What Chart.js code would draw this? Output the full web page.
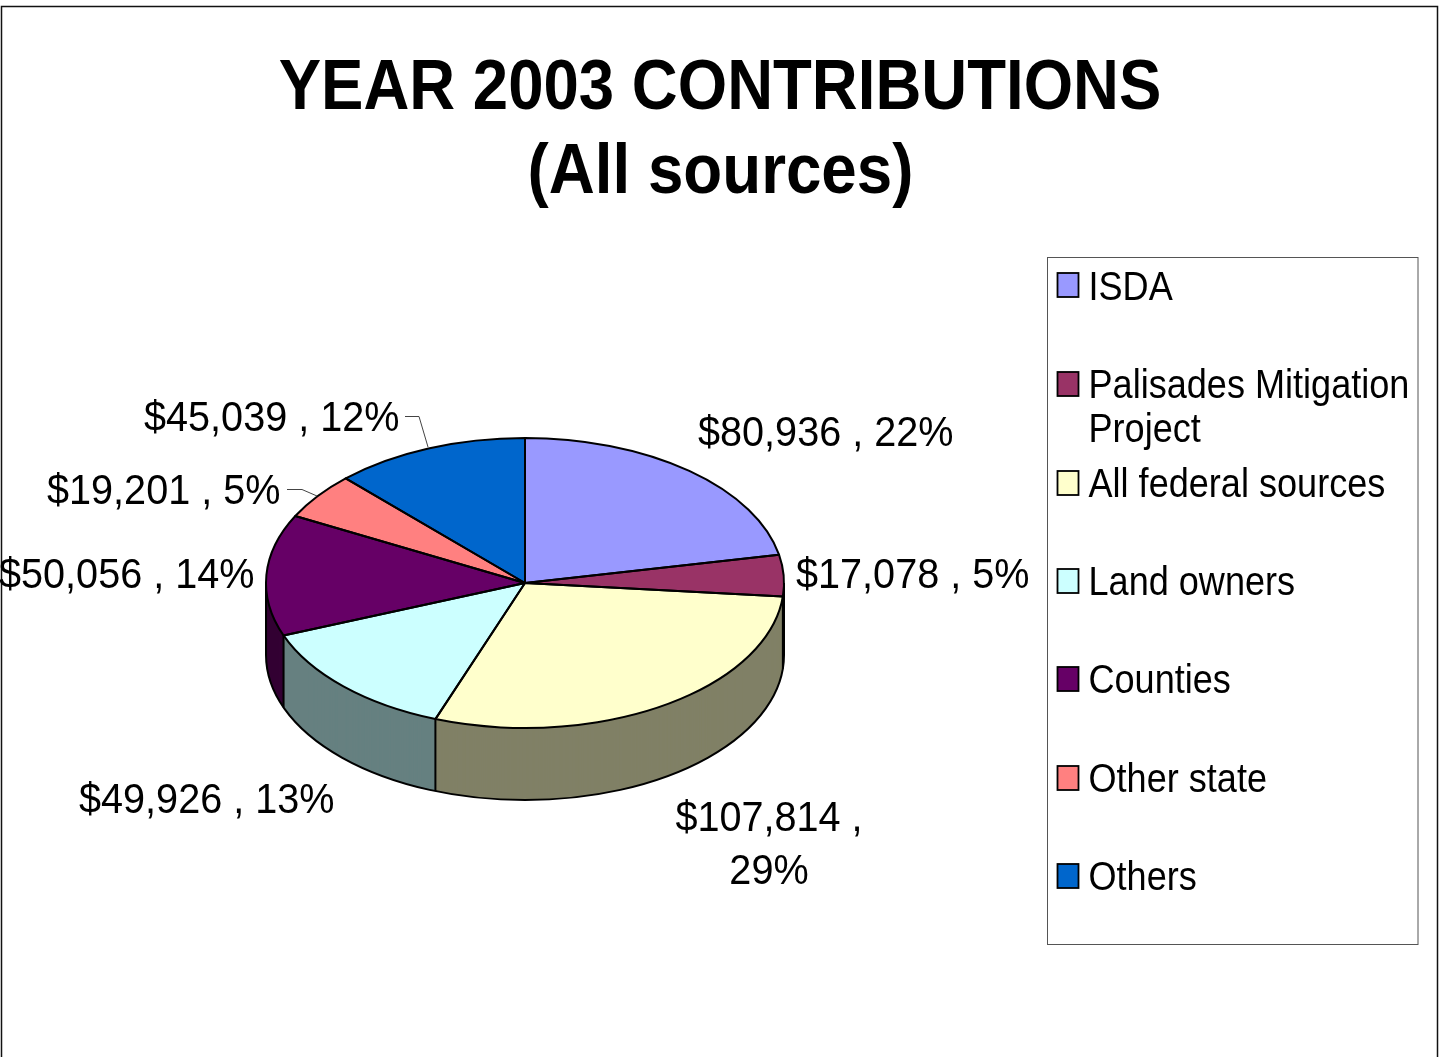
<!DOCTYPE html>
<html>
<head>
<meta charset="utf-8">
<title>Year 2003 contributions</title>
<script src="https://cdn.jsdelivr.net/npm/chart.js@4"></script>
<style>
  html, body { margin: 0; padding: 0; background: #fff; overflow: hidden; }
  canvas { display: block; }
</style>
</head>
<body>
<canvas id="pie" width="1440" height="1057"></canvas>
<script>
const titleLines = ["YEAR 2003 CONTRIBUTIONS", "(All sources)"];
const categories = ["ISDA", "Palisades Mitigation Project", "All federal sources", "Land owners", "Counties", "Other state", "Others"];
const amounts = [80936, 17078, 107814, 49926, 50056, 19201, 45039];
const percents = [22, 5, 29, 13, 14, 5, 12];

const topColors = ["#9999FF", "#993366", "#FFFFCC", "#CCFFFF", "#660066", "#FF8080", "#0066CC"];
const sideColors = ["#4D4D80", "#4D1A33", "#808066", "#668080", "#330033", "#804040", "#003366"];

// 3d look of the pie
const squash = 0.56;
const depth = 72;

const FONT = '"Liberation Sans", Arial, sans-serif';

// left or center x and baseline of each data label
const labelSpots = [
  { x: 698, y: 445.5, align: "left" },
  { x: 796, y: 587.5, align: "left" },
  { x: 769, y: 830.5, align: "center", wrap: true },
  { x: 79, y: 812.5, align: "left" },
  { x: -1, y: 587.5, align: "left" },
  { x: 47, y: 503.5, align: "left" },
  { x: 144, y: 430.5, align: "left" },
];

// swatch centre y of each legend row
const legendRows = [285, 384, 483, 581, 679, 778, 876];

function squeezedText(ctx, text, x, y, size, sx, align, bold) {
  ctx.save();
  ctx.font = (bold ? "bold " : "") + size + "px " + FONT;
  ctx.textAlign = align;
  ctx.textBaseline = "alphabetic";
  ctx.fillStyle = "#000";
  ctx.translate(x, y);
  ctx.scale(sx, 1);
  ctx.fillText(text, 0, 0);
  ctx.restore();
}

function money(n) {
  return "$" + n.toLocaleString("en-US");
}

const pie3d = {
  id: "pie3d",
  beforeDraw(chart) {
    const ctx = chart.ctx;
    ctx.save();
    ctx.fillStyle = "#fff";
    ctx.fillRect(0, 0, chart.width, chart.height);
    ctx.strokeStyle = "#111";
    ctx.lineWidth = 1.5;
    ctx.strokeRect(1.5, 6.5, 1436, 1100);
    ctx.restore();
  },
  beforeDatasetsDraw(chart) {
    const ctx = chart.ctx;
    const arcs = chart.getDatasetMeta(0).data;
    const cy = arcs[0].y;
    ctx.save();
    ctx.translate(0, cy);
    ctx.scale(1, squash);
    ctx.translate(0, -cy);
    // side wall: the same arcs again in dark colours, from the bottom up
    for (let d = depth; d >= 1; d--) {
      ctx.save();
      ctx.translate(0, d / squash);
      arcs.forEach((arc, i) => {
        const wall = Object.create(arc);
        wall.options = Object.assign({}, arc.options, { backgroundColor: sideColors[i] });
        wall.draw(ctx);
      });
      ctx.restore();
    }
  },
  afterDatasetsDraw(chart) {
    const ctx = chart.ctx;
    ctx.restore();
    const arcs = chart.getDatasetMeta(0).data;
    const cx = arcs[0].x, cy = arcs[0].y;
    const rx = arcs[0].outerRadius, ry = rx * squash;

    ctx.save();
    ctx.strokeStyle = "#000";
    ctx.lineWidth = 2;
    ctx.lineJoin = "round";
    arcs.forEach((arc) => {
      ctx.beginPath();
      ctx.moveTo(cx, cy);
      ctx.ellipse(cx, cy, rx, ry, 0, arc.startAngle, arc.endAngle);
      ctx.closePath();
      ctx.stroke();
      // edge between two slices on the front of the wall
      if (Math.sin(arc.endAngle) > 0) {
        const x = cx + rx * Math.cos(arc.endAngle);
        const y = cy + ry * Math.sin(arc.endAngle);
        ctx.beginPath();
        ctx.moveTo(x, y);
        ctx.lineTo(x, y + depth);
        ctx.stroke();
      }
    });
    ctx.beginPath();
    ctx.moveTo(cx + rx, cy);
    ctx.lineTo(cx + rx, cy + depth);
    ctx.ellipse(cx, cy + depth, rx, ry, 0, 0, Math.PI);
    ctx.lineTo(cx - rx, cy);
    ctx.stroke();
    ctx.restore();
  },
  afterDraw(chart) {
    const ctx = chart.ctx;

    // title
    squeezedText(ctx, titleLines[0], 720, 108.5, 71, 0.895, "center", true);
    squeezedText(ctx, titleLines[1], 720.5, 192.5, 71, 0.897, "center", true);

    // data labels
    amounts.forEach((amount, i) => {
      const s = labelSpots[i];
      if (s.wrap) {
        squeezedText(ctx, money(amount) + " ,", s.x, s.y, 42.7, 0.928, s.align);
        squeezedText(ctx, percents[i] + "%", s.x, s.y + 53, 42.7, 0.928, s.align);
      } else {
        squeezedText(ctx, money(amount) + " , " + percents[i] + "%", s.x, s.y, 42.7, 0.928, s.align);
      }
    });

    // leader lines
    ctx.save();
    ctx.strokeStyle = "#444";
    ctx.lineWidth = 1;
    ctx.beginPath();
    ctx.moveTo(405, 416.5);
    ctx.lineTo(419, 416.5);
    ctx.lineTo(428, 447);
    ctx.moveTo(287, 489.5);
    ctx.lineTo(302, 489.5);
    ctx.lineTo(317, 496);
    ctx.stroke();

    // legend
    ctx.strokeStyle = "#555";
    ctx.strokeRect(1047.5, 257.5, 370.5, 687);
    legendRows.forEach((rowY, i) => {
      ctx.fillStyle = topColors[i];
      ctx.fillRect(1057.5, rowY - 12, 21, 24);
      ctx.strokeStyle = "#000";
      ctx.lineWidth = 1.8;
      ctx.strokeRect(1057.5, rowY - 12, 21, 24);
      const name = categories[i];
      if (name === "Palisades Mitigation Project") {
        squeezedText(ctx, "Palisades Mitigation", 1088.5, rowY + 14, 41, 0.88, "left");
        squeezedText(ctx, "Project", 1088.5, rowY + 58, 41, 0.88, "left");
      } else {
        squeezedText(ctx, name, 1088.5, rowY + (i === 0 ? 15 : 14), 41, 0.88, "left");
      }
    });
    ctx.restore();
  },
};

new Chart(document.getElementById("pie"), {
  type: "pie",
  data: {
    labels: categories,
    datasets: [{
      data: amounts,
      backgroundColor: topColors,
      borderWidth: 0,
    }],
  },
  options: {
    responsive: false,
    animation: false,
    devicePixelRatio: 1,
    layout: { padding: { top: 324, right: 390, bottom: 215, left: 0 } },
    plugins: {
      legend: { display: false },
      title: { display: false },
      tooltip: { enabled: false },
    },
  },
  plugins: [pie3d],
});
</script>
</body>
</html>
